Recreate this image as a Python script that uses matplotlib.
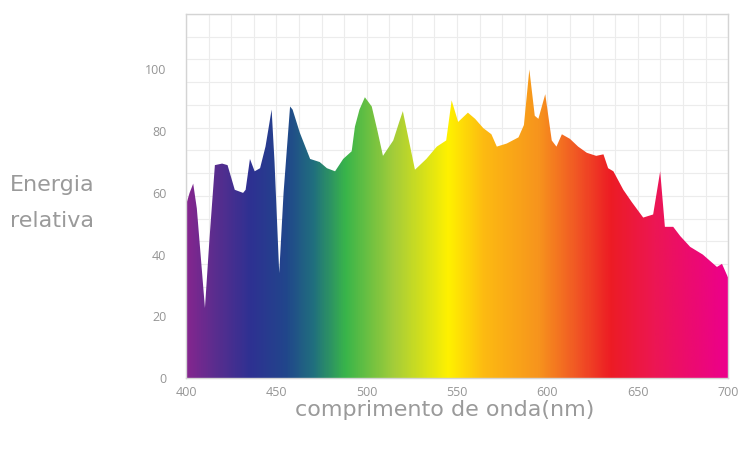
import numpy as np
import matplotlib
matplotlib.use('Agg')
import matplotlib.pyplot as plt
from matplotlib.colors import LinearSegmentedColormap

# spectrum (nm, relative energy)
wavelength = [400, 402, 404, 406, 410.5, 413, 416, 420, 423, 427, 431.6, 433, 435.4, 438, 441, 444,
              447.4, 449, 451.6, 454, 457.6, 459, 463, 468.7, 474, 478, 482.5, 487, 491.7, 493.5,
              496, 499, 502.8, 506, 509, 514.7, 518, 520, 523, 526.7, 533, 538.8, 544, 547, 550.6,
              556, 560, 564.5, 569, 572, 577.5, 584, 587, 590, 593, 595, 598.8, 602.4, 605, 608,
              612.5, 617, 621.8, 627, 631, 633.6, 636.5, 642, 646.7, 653, 658.5, 662.4, 665,
              669.6, 673.5, 679, 686, 693.8, 696.6, 700]
energy = [56, 60, 63, 55, 22.7, 45, 69, 69.5, 69, 61, 60, 61, 71, 67, 68, 75,
          87, 70, 34, 60, 88, 87, 79.5, 71, 70, 68, 67, 71, 73.5, 81.5,
          87, 91, 88, 80, 72, 77, 83, 86.5, 78, 67.5, 71, 75, 77, 90, 83,
          86, 84, 81, 79, 75, 76, 78, 82, 100, 85, 84, 92, 77, 75, 79,
          77.5, 75, 73, 72, 72.5, 68, 67, 61, 57, 52, 53, 67, 49,
          49, 46, 42.5, 40, 36, 37, 32.5]

x_ticks = [400, 450, 500, 550, 600, 650, 700]
y_ticks = [0, 20, 40, 60, 80, 100]

# colour of the light along the x axis
stop_nm = [400, 415, 435, 455, 470, 488, 515, 545, 565, 595, 615, 635, 660, 700]
stop_colors = ['#84268F', '#5B2D8E', '#2E3192', '#21468B', '#206F7E', '#39B54A', '#A5CD39',
               '#FFF100', '#FDBA12', '#F7941D', '#F15A24', '#ED1C24', '#EC1654', '#EC008C']

x_min, x_max = 400, 700
y_min, y_max = 0, 118

fig = plt.figure(figsize=(7.43, 4.5), dpi=100)
ax = fig.add_axes([0.2503, 0.16, 0.7297, 0.809])

cmap = LinearSegmentedColormap.from_list(
    'spectrum', [((n - x_min) / (x_max - x_min), c) for n, c in zip(stop_nm, stop_colors)])
gradient = np.linspace(0, 1, 800).reshape(1, -1)

poly = ax.fill_between(wavelength, energy, 0, facecolor='none', edgecolor='none', zorder=2)
im = ax.imshow(gradient, cmap=cmap, aspect='auto', extent=[x_min, x_max, y_min, y_max],
               interpolation='bilinear', zorder=2)
im.set_clip_path(poly.get_paths()[0], transform=ax.transData)

ax.set_xlim(x_min, x_max)
ax.set_ylim(y_min, y_max)

# faint background grid
for gx in np.arange(x_min, x_max + 0.1, 12.5):
    ax.axvline(gx, color='#ececec', linewidth=0.8, zorder=1)
for gy in np.arange(y_min, y_max + 0.1, y_max / 16):
    ax.axhline(gy, color='#ececec', linewidth=0.8, zorder=1)

ax.set_xticks(x_ticks)
ax.set_yticks(y_ticks)
ax.tick_params(length=0, labelsize=9, labelcolor='#959595')
ax.tick_params(axis='y', pad=14)
ax.tick_params(axis='x', pad=6)
for lab in ax.get_xticklabels() + ax.get_yticklabels():
    lab.set_family('Open Sans')

for side in ax.spines.values():
    side.set_color('#d4d4d4')
    side.set_linewidth(1.0)

fig.text(10 / 743, 1 - 203 / 450, 'Energia\nrelativa', ha='left', va='center',
         fontsize=16, color='#9a9a9a', family='DejaVu Sans', linespacing=1.95)
fig.text(445 / 743, 1 - 410 / 450, 'comprimento de onda(nm)', ha='center', va='center',
         fontsize=16, color='#9a9a9a', family='DejaVu Sans')

fig.savefig('out.png', dpi=100)
